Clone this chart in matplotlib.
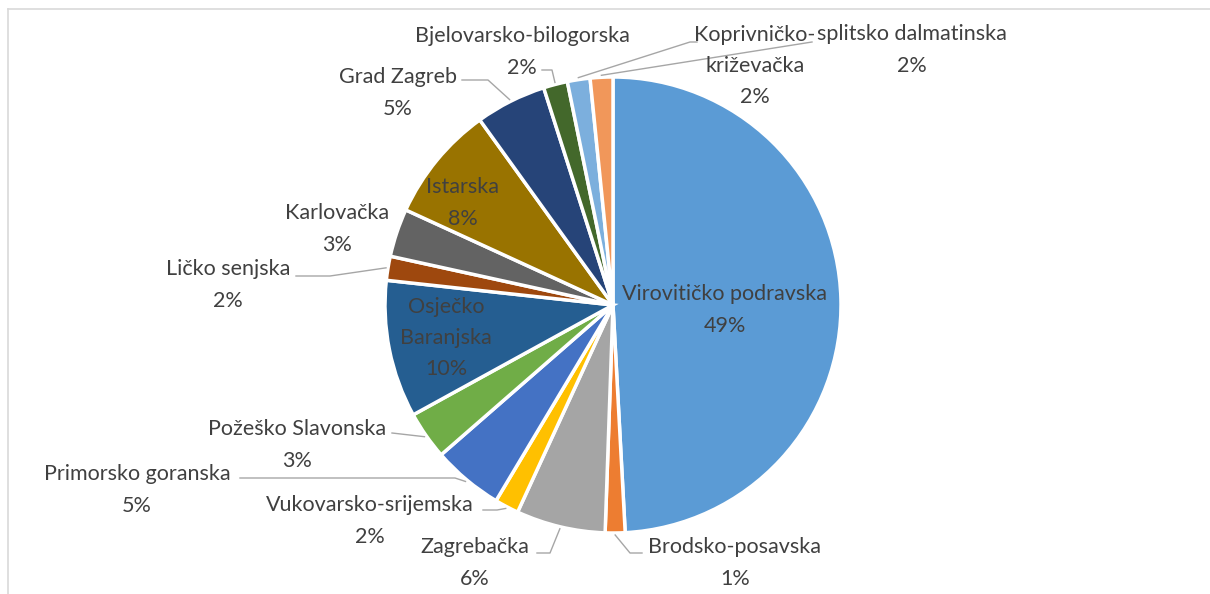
import matplotlib
matplotlib.use("Agg")
import matplotlib.pyplot as plt
import numpy as np

plt.rcParams['font.family'] = ['Lato', 'DejaVu Sans']

# podaci (udio po županiji, u postotcima)
names = ['Virovitičko podravska', 'Brodsko-posavska', 'Zagrebačka',
         'Vukovarsko-srijemska', 'Primorsko goranska', 'Požeško Slavonska',
         'Osječko\nBaranjska', 'Ličko senjska', 'Karlovačka', 'Istarska',
         'Grad Zagreb', 'Bjelovarsko-bilogorska', 'Koprivničko-\nkriževačka',
         'splitsko dalmatinska']
shares = [49.0, 1.4, 6.3, 1.7, 5.0, 3.4, 9.7, 1.7, 3.4, 8.2, 5.0, 1.7, 1.6, 1.6]
colors = ['#5B9BD5', '#ED7D31', '#A5A5A5', '#FFC000', '#4472C4', '#70AD47',
          '#255E91', '#9E480E', '#636363', '#997300', '#264478', '#43682B',
          '#7CAFDD', '#F1975A']

W, H = 1210, 594
CX, CY, R = 613, 305, 228


def py(y):
    # pikselna y (odozgo) -> y osi
    return H - y


fig = plt.figure(figsize=(W / 100, H / 100), dpi=100)
ax = fig.add_axes([0, 0, 1, 1])

wedges, _ = ax.pie(shares, colors=colors, startangle=90, counterclock=False,
                   center=(CX, py(CY)), radius=R,
                   wedgeprops=dict(edgecolor='white', linewidth=2.5))
ax.set_xlim(0, W)
ax.set_ylim(0, H)
ax.axis('off')

total = sum(shares)
labels = [f'{n}\n{round(v / total * 100)}%' for n, v in zip(names, shares)]

# pozicije oznaka (piksel) i prijelom vodilice
label_pos = [(725, 310), (735, 563), (475, 563), (370, 521), (137, 490),
             (297, 445), (446, 338), (228, 285), (337, 229), (463, 203),
             (398, 93), (522, 52), (755, 66), (912, 50)]
leaders = {1: [(642, 553), (630, 553)],
           2: [(537, 553), (550, 553)],
           3: [(483, 510), (497, 510)],
           4: [(240, 478), (455, 478)],
           5: [(392, 433)],
           7: [(296, 276), (330, 276)],
           10: [(462, 80), (488, 80)],
           11: [(542, 70), (552, 70)],
           12: [(697, 42), (690, 42)],
           13: [(812, 42)]}

for i, (txt, (x, y)) in enumerate(zip(labels, label_pos)):
    ax.text(x, py(y), txt, ha='center', va='center', fontsize=15.5,
            color='#404040', linespacing=1.7)
    if i in leaders:
        w = wedges[i]
        mid = np.deg2rad((w.theta1 + w.theta2) / 2)
        ax_pt = (CX + (R + 2) * np.cos(mid), py(CY) + (R + 2) * np.sin(mid))
        pts = leaders[i] + [(ax_pt[0], H - ax_pt[1])]
        ax.plot([p[0] for p in pts], [py(p[1]) for p in pts],
                color='#A6A6A6', lw=1)

# okvir grafikona
ax.plot([8, W], [py(9), py(9)], color='#D9D9D9', lw=1.2)
ax.plot([8, 8], [py(9), 0], color='#D9D9D9', lw=1.2)

plt.savefig('out.png', dpi=100)
